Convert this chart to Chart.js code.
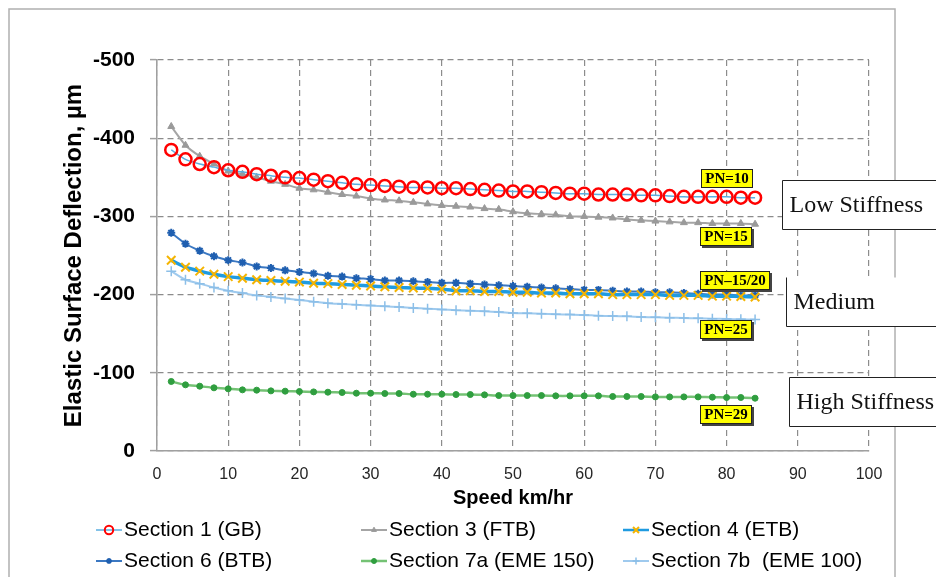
<!DOCTYPE html>
<html>
<head>
<meta charset="utf-8">
<script src="https://cdn.jsdelivr.net/npm/chart.js@4.4.0/dist/chart.umd.min.js"></script>
<style>
  html, body { margin: 0; padding: 0; background: #fff; }
  #wrap { width: 936px; height: 577px; }
</style>
</head>
<body>
<div id="wrap"><canvas id="deflChart" width="936" height="577"></canvas></div>
<script>
// speeds (km/hr) and deflections (µm)
const speeds = [2,4,6,8,10,12,14,16,18,20,22,24,26,28,30,32,34,36,38,40,42,44,46,48,50,52,54,56,58,60,62,64,66,68,70,72,74,76,78,80,82,84];

const sectionNames = ['Section 1 (GB)', 'Section 3 (FTB)', 'Section 4 (ETB)',
                      'Section 6 (BTB)', 'Section 7a (EME 150)', 'Section 7b  (EME 100)'];

const gb = [-385,-373,-367,-363,-359,-357,-354,-352,-350,-349,-347,-345,-343,-341,-340,-339,-338,-337,-337,-336,
            -336,-335,-334,-333,-332,-332,-331,-330,-329,-329,-328,-328,-328,-327,-327,-326,-325,-325,-325,-325,-324,-324];
const ftb = [-415,-391,-377,-367,-358,-354,-350,-345,-341,-336,-334,-331,-328,-326,-323,-321,-320,-318,-316,-314,
             -313,-312,-310,-309,-306,-304,-303,-302,-300,-300,-299,-298,-296,-295,-294,-293,-292,-292,-291,-291,-291,-290];
const etb = [-244,-235,-230,-226,-223,-221,-219,-218,-217,-216,-214.5,-214,-213,-212,-211,-210,-209,-208.5,-208,-207,
             -205,-205,-204,-204,-203,-203,-202,-202,-201,-201,-201,-200,-200,-200,-200,-199,-199,-199,-198,-198,-197.5,-197];
const btb = [-279,-265,-256,-249,-244,-241,-236,-234,-231,-229,-227,-224,-223,-221,-220,-218,-218,-217,-216,-215,
             -215,-214,-213,-212,-211,-210,-209,-208,-207,-206,-206,-205,-204,-204,-203,-203,-202,-201,-200,-200,-199,-199];
const eme150 = [-88.9,-84.6,-82.9,-80.8,-79.5,-78.2,-77.8,-76.9,-76.5,-76.1,-75.6,-75.2,-74.8,-73.9,-73.9,-73.5,-73.5,-72.6,-72.6,-72.6,
                -72.2,-72.2,-71.8,-70.9,-70.9,-70.9,-70.9,-70.5,-70.5,-70.5,-70.5,-69.7,-69.7,-69.7,-69.2,-69.2,-69.2,-69.2,-68.8,-68.4,-68.4,-67.5];
const eme100 = [-230,-219,-214,-209,-205,-202,-199,-197,-195,-193,-191,-189,-188,-187,-186,-185,-184,-183,-182,-181,
                -180,-179.5,-178.6,-177.8,-176.5,-176,-175.6,-174.8,-174.4,-174,-173,-172.6,-172.2,-171.4,-171,-170.5,-170,-169.7,-169.2,-168.8,-168.4,-168];

const xTicks = [0,10,20,30,40,50,60,70,80,90,100];
const yTicks = [-500,-400,-300,-200,-100,0];

// PN call-outs (anchored at speed / deflection of their top-left corner)
const pnText  = ['PN=10', 'PN=15', 'PN\u201315/20', 'PN=25', 'PN=29'];
const pnSpeed = [76.4, 76.2, 76.2, 76.2, 76.3];
const pnDefl  = [-360, -287, -230, -168, -59];

const stiffText  = ['Low Stiffness', 'Medium', 'High Stiffness'];
const stiffSpeed = [87.8, 88.4, 88.8];
const stiffDefl  = [-346, -222, -95];

const allSeries = [gb, ftb, etb, btb, eme150, eme100];
const looks = [
  { line: '#5aaee0', width: 1.5, style: 'circle',   radius: 6, pt: '#ff0000', fill: 'rgba(0,0,0,0)', ptw: 2.5 },
  { line: '#a5a5a5', width: 2,   style: 'triangle', radius: 4, pt: '#9a9a9a', fill: '#9a9a9a',       ptw: 1 },
  { line: '#1f9be0', width: 3.5, style: 'crossRot', radius: 6, pt: '#f5b400', fill: '#f5b400',       ptw: 2 },
  { line: '#3b78c2', width: 2,   style: 'star',     radius: 4, pt: '#1f5fb0', fill: '#1f5fb0',       ptw: 2 },
  { line: '#74c274', width: 2.5, style: 'circle',   radius: 3, pt: '#2f9e3f', fill: '#2f9e3f',       ptw: 1 },
  { line: '#9fcaee', width: 2,   style: 'cross',    radius: 5, pt: '#8cbfe8', fill: '#8cbfe8',       ptw: 1.5 }
];

const datasets = allSeries.map((vals, i) => ({
  label: sectionNames[i],
  data: speeds.map((s, j) => ({ x: s, y: vals[j] })),
  borderColor: looks[i].line,
  borderWidth: looks[i].width,
  pointStyle: looks[i].style,
  pointRadius: looks[i].radius,
  pointBorderColor: looks[i].pt,
  pointBackgroundColor: looks[i].fill,
  pointBorderWidth: looks[i].ptw,
  tension: 0.2,
  fill: false
}));

const legendCols = [96, 361, 623];
const legendRows = [530, 561];

const decorations = {
  id: 'decorations',
  beforeDraw(chart) {
    const c = chart.ctx;
    c.save();
    c.fillStyle = '#fff';
    c.fillRect(0, 0, chart.width, chart.height);
    c.strokeStyle = '#b0b0b0';
    c.lineWidth = 1.5;
    c.strokeRect(9, 9, 886, chart.height + 20);
    c.restore();
  },
  afterDraw(chart) {
    const c = chart.ctx, xs = chart.scales.x, ys = chart.scales.y;
    c.save();

    // PN boxes
    c.font = 'bold 15px "Liberation Serif", "Times New Roman", serif';
    c.textAlign = 'center';
    c.textBaseline = 'middle';
    pnText.forEach((t, i) => {
      const left = Math.round(xs.getPixelForValue(pnSpeed[i]));
      const top = Math.round(ys.getPixelForValue(pnDefl[i]));
      const w = Math.round(c.measureText(t).width + 8), h = 19;
      if (i > 0) {
        c.fillStyle = '#444';
        c.fillRect(left + 2, top + 2, w, h);
      }
      c.fillStyle = '#ffff00';
      c.fillRect(left, top, w, h);
      c.strokeStyle = '#222';
      c.lineWidth = 1;
      c.strokeRect(left + 0.5, top + 0.5, w - 1, h - 1);
      c.fillStyle = '#000';
      c.fillText(t, left + w / 2, top + h / 2 + 1);
    });

    // stiffness boxes
    c.font = '24px "Liberation Serif", "Times New Roman", serif';
    c.textAlign = 'left';
    stiffText.forEach((t, i) => {
      const left = Math.round(xs.getPixelForValue(stiffSpeed[i])) + 0.5;
      const top = Math.round(ys.getPixelForValue(stiffDefl[i])) + 0.5;
      const h = 49, right = chart.width + 5;
      c.fillStyle = '#fff';
      c.fillRect(left, top, right - left, h);
      c.strokeStyle = '#222';
      c.lineWidth = 1;
      c.beginPath();
      if (i === 1) {
        c.moveTo(left, top);
      } else {
        c.moveTo(right, top);
        c.lineTo(left, top);
      }
      c.lineTo(left, top + h);
      c.lineTo(right, top + h);
      c.stroke();
      c.fillStyle = '#111';
      c.fillText(t, left + 7, top + h / 2 + 1);
    });

    // legend
    c.font = '21px "Liberation Sans", Arial, sans-serif';
    c.textBaseline = 'middle';
    chart.data.datasets.forEach((ds, i) => {
      const x = legendCols[i % 3], y = legendRows[Math.floor(i / 3)];
      c.strokeStyle = ds.borderColor;
      c.lineWidth = Math.min(ds.borderWidth, 2.5);
      c.setLineDash([]);
      c.beginPath();
      c.moveTo(x, y);
      c.lineTo(x + 26, y);
      c.stroke();
      c.strokeStyle = ds.pointBorderColor;
      c.fillStyle = ds.pointBackgroundColor;
      c.lineWidth = Math.min(ds.pointBorderWidth, 2);
      Chart.helpers.drawPoint(c, { pointStyle: ds.pointStyle, radius: Math.max(ds.pointRadius * 0.7, 2.5), rotation: 0, borderWidth: c.lineWidth }, x + 13, y);
      c.fillStyle = '#000';
      c.fillText(ds.label, x + 28, y);
    });
    c.restore();
  }
};

const gridCol = '#8c8c8c';
const axisCol = '#a0a0a0';

new Chart(document.getElementById('deflChart'), {
  type: 'line',
  data: { datasets },
  plugins: [decorations],
  options: {
    responsive: false,
    animation: false,
    layout: { padding: { left: 0, right: 67, top: 60, bottom: 66 } },
    plugins: { legend: { display: false }, tooltip: { enabled: false } },
    scales: {
      x: {
        type: 'linear', min: 0, max: 100,
        afterBuildTicks: s => { s.ticks = xTicks.map(v => ({ value: v })); },
        afterFit: s => { s.height = 60; },
        ticks: { font: { size: 16, family: '"Liberation Sans", Arial, sans-serif' }, color: '#262626', padding: 14 },
        grid: { color: gridCol, lineWidth: 1.2, drawTicks: false },
        border: { color: axisCol, width: 1.5, dash: [6, 4] },
        title: {
          display: true, text: 'Speed km/hr', color: '#000',
          font: { size: 20, weight: 'bold', family: '"Liberation Sans", Arial, sans-serif' },
          padding: { top: 0, bottom: 1 }
        }
      },
      y: {
        type: 'linear', min: -500, max: 0, reverse: true,
        afterBuildTicks: s => { s.ticks = yTicks.map(v => ({ value: v })); },
        afterFit: s => { s.width = 157; },
        ticks: { font: { size: 21, weight: 'bold', family: '"Liberation Sans", Arial, sans-serif' }, color: '#000', padding: 15 },
        grid: { color: gridCol, lineWidth: 1.2, tickLength: 7, tickColor: axisCol, tickWidth: 1.5, tickBorderDash: [] },
        border: { color: axisCol, width: 1.5, dash: [6, 4] },
        title: {
          display: true, text: 'Elastic Surface Deflection, \u00b5m', color: '#000',
          font: { size: 24, weight: 'bold', family: '"Liberation Sans", Arial, sans-serif' },
          padding: { top: 60, bottom: 0 }
        }
      }
    }
  }
});
</script>
</body>
</html>
